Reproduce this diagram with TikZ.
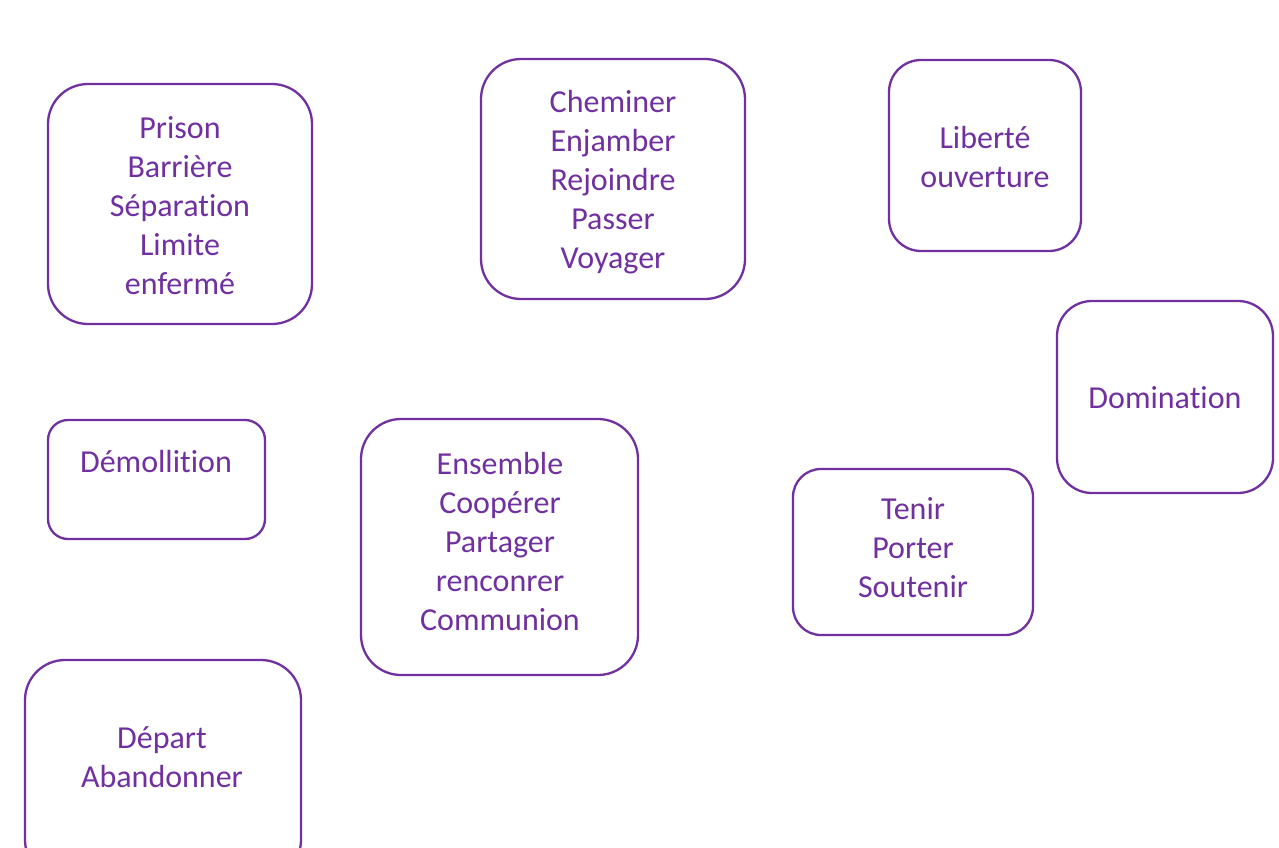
\documentclass[tikz,border=0pt]{standalone}
\usepackage{fontspec}
\setmainfont{Carlito}[Ligatures=NoCommon]
\definecolor{vio}{HTML}{7030A0}
\tikzset{
  rbox/.style={draw=vio, line width=2.3pt, rounded corners=#1, fill=none},
  rbox/.default=40pt,
  wtxt/.style={text=vio, align=center, font=\fontsize{32}{39}\selectfont, inner sep=0pt}
}
\begin{document}
\begin{tikzpicture}[x=1pt,y=-1pt]
\useasboundingbox (0,0) rectangle (1279,848);
\clip (0,0) rectangle (1279,848);
% boxes
\draw[rbox=40pt] (48,84) rectangle (312,324) coordinate (bprison);
\draw[rbox=40pt] (481,59) rectangle (745,299) coordinate (bchem);
\draw[rbox=32pt] (889,60) rectangle (1081,251) coordinate (blib);
\draw[rbox=35pt] (1057,301) rectangle (1273,493) coordinate (bdom);
\draw[rbox=20pt] (48,420) rectangle (265,539) coordinate (bdem);
\draw[rbox=40pt] (361,419) rectangle (638,675) coordinate (bens);
\draw[rbox=28pt] (793,469) rectangle (1033,635) coordinate (bten);
\draw[rbox=40pt] (25,660) rectangle (301,880) coordinate (bdep);
% texts
\node[wtxt] (tprison) at (180,206) {Prison\\Barrière\\Séparation\\Limite\\enfermé};
\node[wtxt] (tchem) at (613,182) {Cheminer\\Enjamber\\Rejoindre\\Passer\\Voyager};
\node[wtxt] (tlib) at (985,157.5) {Liberté\\ouverture};
\node[wtxt] (tdom) at (1165,398) {Domination};
\node[wtxt] (tdem) at (156,462) {Démollition};
\node[wtxt] (tens) at (500,542) {Ensemble\\Coopérer\\Partager\\renconrer\\Communion};
\node[wtxt] (tten) at (913,548) {Tenir\\Porter\\Soutenir};
\node[wtxt] (tdep) at (162,757.5) {Départ\\Abandonner};
\end{tikzpicture}
\end{document}
